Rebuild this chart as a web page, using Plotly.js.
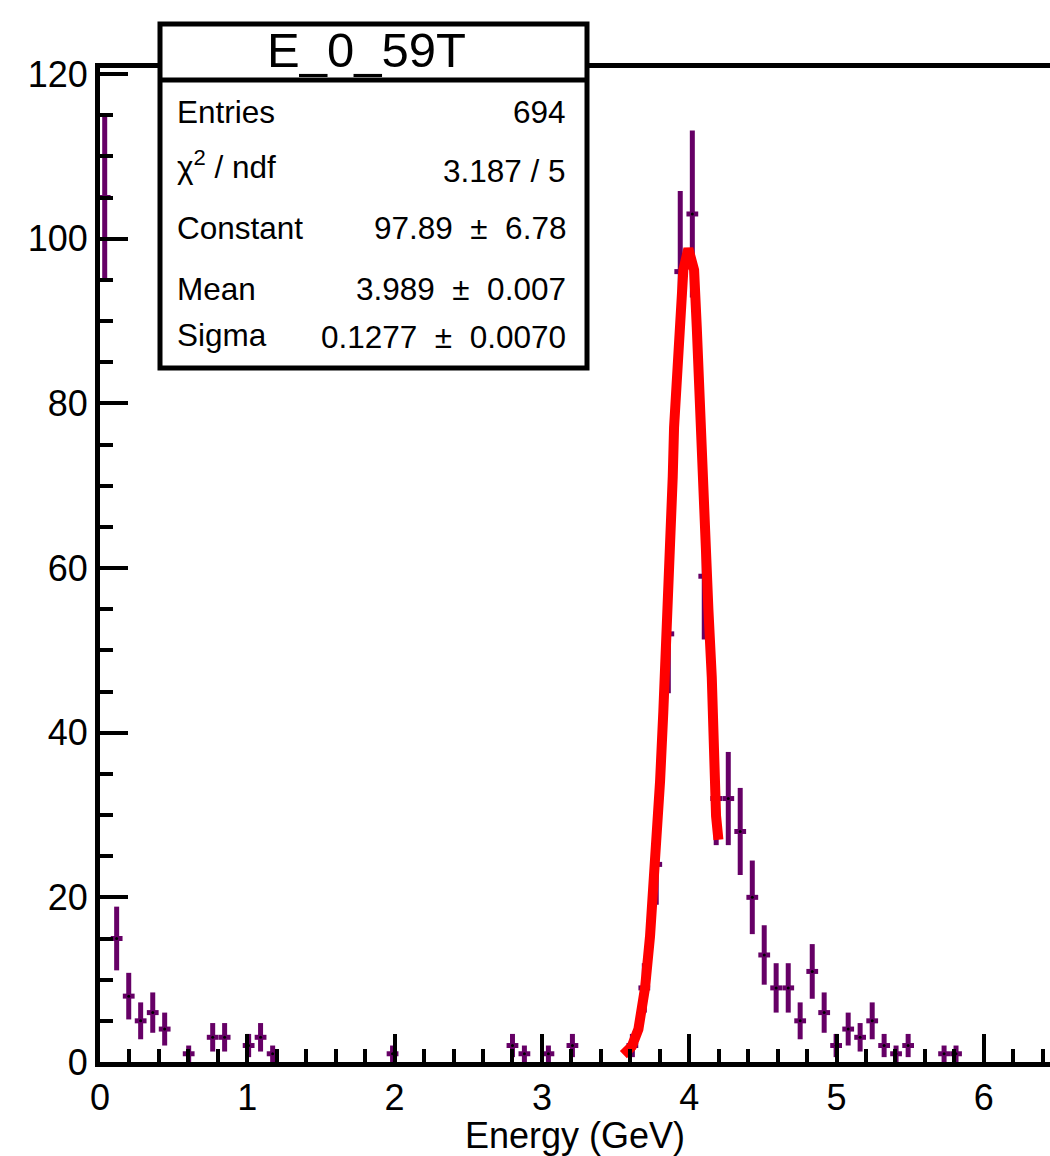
<!DOCTYPE html>
<html>
<head>
<meta charset="utf-8">
<script src="https://cdn.plot.ly/plotly-3.0.1.min.js"></script>
<style>html,body{margin:0;padding:0;background:#fff;}#chart{width:1050px;height:1156px;}</style>
</head>
<body>
<div id="chart"></div>
<script>
// Histogram bin centers (GeV) and contents
const binCenters = [0.032, 0.113, 0.195, 0.276, 0.358, 0.439, 0.602, 0.765, 0.846, 1.009, 1.090, 1.172,
  1.986, 2.800, 2.881, 3.044, 3.207,
  3.614, 3.695, 3.776, 3.858, 3.939, 4.021, 4.102, 4.183, 4.265, 4.346, 4.428, 4.509, 4.590, 4.672,
  4.753, 4.835, 4.916, 4.997, 5.079, 5.160, 5.242, 5.323, 5.404, 5.486, 5.730, 5.811];
const counts = [105, 15, 8, 5, 6, 4, 1, 3, 3, 2, 3, 1,
  1, 2, 1, 1, 2,
  2, 9, 24, 52, 96, 103, 59, 32, 32, 28, 20, 13, 9, 9,
  5, 11, 6, 2, 4, 3, 5, 2, 1, 2, 1, 1];
const errors = [10.25, 3.87, 2.83, 2.24, 2.45, 2.00, 1.00, 1.73, 1.73, 1.41, 1.73, 1.00,
  1.00, 1.41, 1.00, 1.00, 1.41,
  1.41, 3.00, 4.90, 7.21, 9.80, 10.15, 7.68, 5.66, 5.66, 5.29, 4.47, 3.61, 3.00, 3.00,
  2.24, 3.32, 2.45, 1.41, 2.00, 1.73, 2.24, 1.41, 1.00, 1.41, 1.00, 1.00];

// Fitted gaussian curve as drawn
const fitX = [3.553, 3.610, 3.655, 3.700, 3.734, 3.768, 3.802, 3.824, 3.847, 3.867, 3.888, 3.897, 3.915,
  3.938, 3.960, 3.994, 4.033, 4.051, 4.067, 4.085, 4.100, 4.130, 4.153, 4.164, 4.182, 4.198];
const fitY = [0.9, 1.9, 4.0, 9.0, 15.3, 23.7, 34.1, 42.5, 50.8, 63.2, 71.1, 77.1, 83.6,
  89.3, 96.2, 98.8, 96.2, 89.3, 81.2, 73.1, 65.0, 55.0, 46.7, 38.3, 29.9, 27.0];

// Stats box text
const statsTitle = "E_0_59T";
const statLabels = ["Entries", "χ<sup>2</sup> / ndf", "Constant", "Mean", "Sigma"];
const statValues = ["694", "3.187 / 5", "97.89\u00a0 ±\u00a0 6.78", "3.989\u00a0 ±\u00a0 0.007", "0.1277\u00a0 ±\u00a0 0.0070"];

const W = 1050, H = 1156;
const mL = 100, mR = 0, mT = 68, mB = 94;
const plotW = W - mL - mR, plotH = H - mT - mB;
const px2paperX = p => (p - mL) / plotW;
const py2paperY = p => (H - mB - p) / plotH;

const FONT = "Liberation Sans, Arial, Helvetica, sans-serif";
const purple = "#660066";

const dataTrace = {
  type: "scatter", mode: "markers",
  x: binCenters, y: counts,
  marker: {color: "black", size: 3},
  error_y: {type: "data", array: errors, visible: true, color: purple, thickness: 5, width: 0},
  error_x: {type: "constant", value: 0.04, visible: true, color: purple, thickness: 5, width: 0},
  hoverinfo: "skip", cliponaxis: true
};
const fitTrace = {
  type: "scatter", mode: "lines",
  x: fitX, y: fitY,
  line: {color: "#ff0000", width: 10},
  hoverinfo: "skip"
};

const bx0 = px2paperX(160), bx1 = px2paperX(587);
const by0 = py2paperY(368), by1 = py2paperY(24), bySep = py2paperY(80);

const shapes = [
  {type: "rect", xref: "paper", yref: "paper", x0: bx0, x1: bx1, y0: by0, y1: by1,
   fillcolor: "white", line: {color: "black", width: 5}, layer: "above"},
  {type: "line", xref: "paper", yref: "paper", x0: bx0, x1: bx1, y0: bySep, y1: bySep,
   line: {color: "black", width: 5}, layer: "above"}
];

const labelY = [111.5, 165, 227.5, 289, 335];
const valueY = [111.5, 171, 227.5, 289, 337];
const annotations = [
  {xref: "paper", yref: "paper", x: px2paperX(366), y: py2paperY(50), text: statsTitle,
   showarrow: false, xanchor: "center", yanchor: "middle", font: {family: FONT, size: 49, color: "black"}}
];
statLabels.forEach((t, i) => annotations.push({
  xref: "paper", yref: "paper", x: px2paperX(175), y: py2paperY(labelY[i]), text: t,
  showarrow: false, xanchor: "left", yanchor: "middle", font: {family: FONT, size: 31.5, color: "black"}
}));
statValues.forEach((t, i) => annotations.push({
  xref: "paper", yref: "paper", x: px2paperX(568), y: py2paperY(valueY[i]), text: t,
  showarrow: false, xanchor: "right", yanchor: "middle", font: {family: FONT, size: 31.5, color: "black"}
}));

const layout = {
  width: W, height: H,
  margin: {l: mL, r: mR, t: mT, b: mB, pad: 0},
  paper_bgcolor: "white", plot_bgcolor: "white",
  showlegend: false,
  font: {family: FONT, color: "black"},
  xaxis: {
    range: [0, 6.449], autorange: false,
    showline: true, linewidth: 5, linecolor: "black", mirror: true,
    ticks: "inside", ticklen: 28, tickwidth: 4, tickcolor: "black",
    tick0: 0, dtick: 1,
    minor: {ticks: "inside", ticklen: 13, tickwidth: 4, tickcolor: "black", dtick: 0.2, tick0: 0, showgrid: false},
    showgrid: false, zeroline: false,
    tickfont: {family: FONT, size: 36, color: "black"},
    title: {text: "Energy (GeV)", font: {family: FONT, size: 36, color: "black"}, standoff: 2},
    automargin: false
  },
  yaxis: {
    range: [0, 120.73], autorange: false,
    showline: true, linewidth: 5, linecolor: "black", mirror: false,
    ticks: "inside", ticklen: 28, tickwidth: 4, tickcolor: "black",
    tick0: 0, dtick: 20,
    minor: {ticks: "inside", ticklen: 13, tickwidth: 4, tickcolor: "black", dtick: 5, tick0: 0, showgrid: false},
    showgrid: false, zeroline: false,
    tickfont: {family: FONT, size: 36, color: "black"},
    automargin: false
  },
  shapes: shapes,
  annotations: annotations
};

Plotly.newPlot("chart", [dataTrace, fitTrace], layout, {staticPlot: true, displayModeBar: false});
</script>
</body>
</html>
